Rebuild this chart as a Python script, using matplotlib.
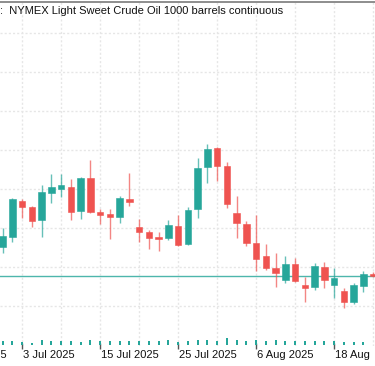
import matplotlib
matplotlib.use("Agg")
import matplotlib.pyplot as plt
import matplotlib.transforms as mtransforms
import numpy as np

# ---- data ----
dates = ["1 Jul", "2 Jul", "3 Jul", "4 Jul", "7 Jul", "8 Jul", "9 Jul", "10 Jul", "11 Jul",
         "14 Jul", "15 Jul", "16 Jul", "17 Jul", "18 Jul", "21 Jul", "22 Jul", "23 Jul",
         "24 Jul", "25 Jul", "28 Jul", "29 Jul", "30 Jul", "31 Jul", "1 Aug", "4 Aug",
         "5 Aug", "6 Aug", "7 Aug", "8 Aug", "11 Aug", "12 Aug", "13 Aug", "14 Aug",
         "15 Aug", "18 Aug", "19 Aug", "20 Aug", "21 Aug", "22 Aug"]
opens = [65.03, 65.52, 67.40, 67.06, 66.41, 67.81, 68.02, 68.12, 66.87, 68.58,
         66.84, 66.72, 66.55, 67.49, 66.04, 65.81, 65.54, 65.47, 66.12, 65.16,
         66.97, 69.14, 70.09, 69.16, 66.75, 66.21, 65.25, 64.56, 63.96, 63.33,
         64.15, 63.06, 62.96, 64.02, 63.08, 62.78, 62.22, 63.04, 63.64]
highs = [66.00, 67.54, 67.49, 67.13, 68.21, 68.75, 68.78, 68.50, 68.63, 69.49,
         66.96, 66.96, 67.64, 68.81, 66.45, 65.90, 65.78, 66.41, 66.67, 67.06,
         69.57, 70.29, 70.17, 69.37, 67.64, 66.36, 66.67, 65.18, 64.70, 64.56,
         64.48, 63.50, 64.22, 64.27, 63.93, 62.91, 63.19, 63.81, 63.74]
lows = [64.72, 65.28, 66.51, 66.05, 65.55, 67.27, 67.61, 66.41, 66.46, 66.78,
        66.21, 65.44, 66.27, 67.13, 65.30, 64.91, 64.84, 65.38, 65.10, 65.12,
        66.53, 68.32, 68.41, 67.01, 65.47, 65.08, 63.81, 63.85, 62.99, 63.19,
        63.25, 62.19, 62.82, 62.91, 62.39, 61.88, 62.10, 62.73, 63.49]
closes = [65.59, 67.47, 67.09, 66.36, 67.85, 68.09, 68.19, 66.84, 68.58, 66.81,
          66.67, 66.58, 67.54, 67.32, 65.79, 65.50, 65.45, 66.15, 65.13, 66.92,
          69.09, 70.07, 69.18, 67.22, 66.24, 65.23, 64.39, 63.96, 63.71, 64.15,
          63.28, 62.92, 64.05, 63.33, 63.45, 62.22, 63.06, 63.64, 63.55]
volumes = [200, 200, 165, 100, 285, 200, 200, 235, 185, 265,
           200, 215, 200, 200, 200, 200, 200, 250, 165, 200,
           265, 265, 200, 350, 250, 200, 265, 235, 265, 200,
           200, 200, 200, 200, 200, 165, 165, 150, 0]
label_idx = [-6, 2, 10, 18, 26, 34]
label_text = ["23 Jun 2025", "3 Jul 2025", "15 Jul 2025", "25 Jul 2025", "6 Aug 2025", "18 Aug"]
title = ":  NYMEX Light Sweet Crude Oil 1000 barrels continuous"

UP = "#26a69a"
DOWN = "#ef5350"

plt.rcParams['font.family'] = ['Liberation Sans', 'DejaVu Sans']

W, H = 375, 366
fig = plt.figure(figsize=(W / 100, H / 100), dpi=100)
ax = fig.add_axes([0, 20 / H, 1, 344 / H])

x = np.arange(len(opens))
o = np.array(opens); c = np.array(closes); h = np.array(highs); l = np.array(lows)
up = c >= o
cols = np.where(up, UP, DOWN)

# last price line
ax.axhline(closes[-1], color="#4db6ac", lw=1.0, zorder=1)

# wicks
ax.vlines(x, l, h, colors=cols, lw=1.0, alpha=0.7, zorder=2)
# bodies
bottoms = np.minimum(o, c)
heights = np.maximum(np.abs(c - o), 0.04)
ax.bar(x, heights, bottom=bottoms, width=0.66, color=cols, edgecolor=cols,
       linewidth=0.4, zorder=3)

# volume
ax2 = ax.twinx()
ax2.bar(x, volumes, width=0.2, color=UP, zorder=3)
ax2.set_ylim(-35, 344 * 50 - 35)
ax2.set_yticks([])
for s in ax2.spines.values():
    s.set_visible(False)

ax.set_yticks(np.arange(62, 77, 2))
ax.tick_params(axis='y', length=0, labelleft=False, labelright=False)

# x labels: left-aligned text starting just right of each tick
ax.set_xticks(label_idx)
ax.set_xticklabels([])
ax.set_xticks([i + 4 for i in label_idx], minor=True)
ax.tick_params(axis='x', which='major', direction='inout', length=5, width=1,
               color='#555555')
ax.tick_params(axis='x', which='minor', length=0)
lab_tr = mtransforms.blended_transform_factory(ax.transData, ax.transAxes) + \
    mtransforms.ScaledTranslation(1.2 / 100, -4.5 / 100, fig.dpi_scale_trans)
for xi, txt in zip(label_idx, label_text):
    ax.text(xi, 0, txt, transform=lab_tr, ha='left', va='top', fontsize=8,
            color='#111111', clip_on=False)

# limits after ticks (set_ticks can expand view limits)
ax.set_xlim(-2.7 / 9.75, (W - 2.7) / 9.75)
ax.set_ylim(62 - 40 / 19.5, 62 + 304 / 19.5)

ax.grid(True, which='both', color='#e6e6e6', lw=1, linestyle=(0, (1.5, 1.5)))
ax.set_axisbelow(True)

for s in ['left', 'right', 'bottom']:
    ax.spines[s].set_visible(False)
ax.spines['top'].set_color('#7a7a7a')
ax.spines['top'].set_linewidth(1.2)

ax.text(0.0, 1.0, title, transform=ax.transAxes + mtransforms.ScaledTranslation(0, -9 / 100, fig.dpi_scale_trans),
        ha='left', va='center', fontsize=8, color='#111111')

fig.savefig("out.png", dpi=100)
